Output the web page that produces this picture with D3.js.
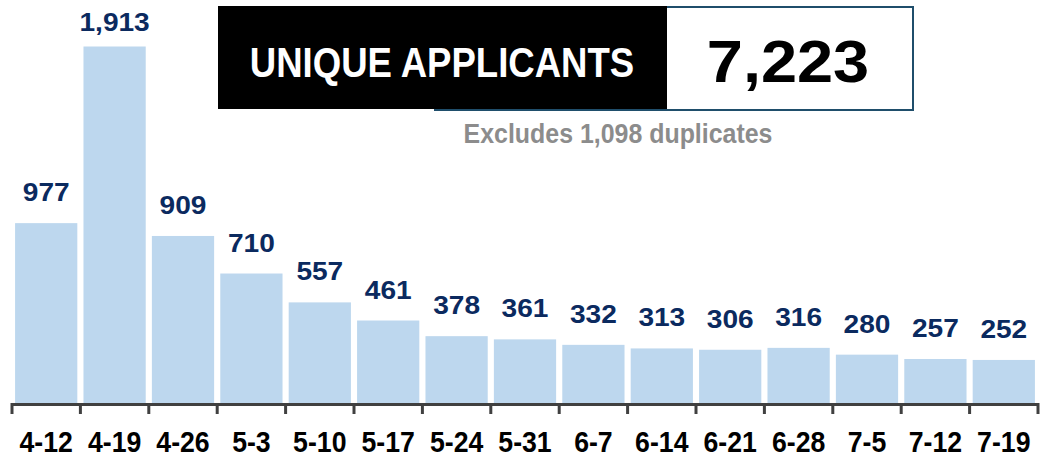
<!DOCTYPE html>
<html lang="en">
<head>
    <meta charset="UTF-8">
    <title>Unique Applicants</title>
    <script src="https://d3js.org/d3.v7.min.js"></script>
    <style>
        body {
            margin: 0;
            background: #ffffff;
        }
        text {
            font-family: "Liberation Sans", Arial, sans-serif;
            font-weight: bold;
        }
    </style>
</head>
<body>
    <svg id="chart" width="1040" height="459"></svg>

    <script>
        // weekly counts
        const weeks = ["4-12", "4-19", "4-26", "5-3", "5-10", "5-17", "5-24", "5-31",
                       "6-7", "6-14", "6-21", "6-28", "7-5", "7-12", "7-19"];
        const applicants = [977, 1913, 909, 710, 557, 461, 378, 361, 332, 313, 306, 316, 280, 257, 252];
        const totalUnique = 7223;
        const duplicates = 1098;

        const svg = d3.select("#chart");
        const fmt = d3.format(",");

        // squeeze / stretch text horizontally (no condensed font installed)
        function place(sel, x, y, sx) {
            sel.attr("transform", `translate(${x},${y}) scale(${sx},1)`);
        }

        const x = d3.scaleBand()
            .domain(weeks)
            .range([12, 1038])
            .paddingInner(0.09)
            .paddingOuter(0.045);

        // baseline sits a bit under the axis line
        const y = d3.scaleLinear()
            .domain([0, d3.max(applicants)])
            .range([407.5, 46.5]);

        // bars
        svg.selectAll(".bar")
            .data(weeks)
            .enter().append("rect")
            .attr("class", "bar")
            .attr("x", d => x(d))
            .attr("y", (d, i) => y(applicants[i]))
            .attr("width", x.bandwidth())
            .attr("height", (d, i) => y(0) - y(applicants[i]))
            .attr("fill", "#BDD7EE");

        // value labels
        svg.selectAll(".val")
            .data(weeks)
            .enter().append("text")
            .attr("class", "val")
            .attr("transform", (d, i) =>
                `translate(${x(d) + x.bandwidth() / 2},${Math.max(y(applicants[i]) - 22, 31)}) scale(1.08,1)`)
            .attr("text-anchor", "middle")
            .attr("font-size", 26)
            .attr("fill", "#0B2A5F")
            .text((d, i) => fmt(applicants[i]));

        // axis line + ticks between categories
        const axis = svg.append("g").attr("class", "axis");
        axis.append("rect")
            .attr("x", 0).attr("y", 406)
            .attr("width", 1040).attr("height", 53)
            .attr("fill", "#ffffff");
        axis.append("line")
            .attr("x1", x.range()[0]).attr("x2", x.range()[1])
            .attr("y1", 404.5).attr("y2", 404.5)
            .attr("stroke", "#404040")
            .attr("stroke-width", 3);
        axis.selectAll(".tick")
            .data(d3.range(weeks.length + 1))
            .enter().append("line")
            .attr("class", "tick")
            .attr("x1", i => x.range()[0] + i * x.step())
            .attr("x2", i => x.range()[0] + i * x.step())
            .attr("y1", 403).attr("y2", 414)
            .attr("stroke", "#404040")
            .attr("stroke-width", 3);
        axis.selectAll(".lab")
            .data(weeks)
            .enter().append("text")
            .attr("class", "lab")
            .attr("transform", d => `translate(${x(d) + x.bandwidth() / 2},452) scale(0.92,1)`)
            .attr("text-anchor", "middle")
            .attr("font-size", 29)
            .attr("fill", "#000000")
            .text(d => d);

        // headline box
        const head = svg.append("g");
        head.append("line")
            .attr("x1", 434).attr("x2", 913)
            .attr("y1", 110).attr("y2", 110)
            .attr("stroke", "#1F4E6B").attr("stroke-width", 2);
        head.append("rect")
            .attr("x", 666).attr("y", 7)
            .attr("width", 247).attr("height", 103)
            .attr("fill", "#ffffff")
            .attr("stroke", "#1F4E6B").attr("stroke-width", 2);
        head.append("rect")
            .attr("x", 218).attr("y", 6)
            .attr("width", 449).attr("height", 103)
            .attr("fill", "#000000");
        head.append("text")
            .call(place, 442, 77, 0.87)
            .attr("text-anchor", "middle")
            .attr("font-size", 42)
            .attr("fill", "#ffffff")
            .text("UNIQUE APPLICANTS");
        head.append("text")
            .call(place, 788, 82, 1.1)
            .attr("text-anchor", "middle")
            .attr("font-size", 59)
            .attr("fill", "#000000")
            .text(fmt(totalUnique));
        head.append("text")
            .call(place, 618, 143, 0.89)
            .attr("text-anchor", "middle")
            .attr("font-size", 28)
            .attr("fill", "#8C8C8C")
            .text("Excludes " + fmt(duplicates) + " duplicates");
    </script>
</body>
</html>
